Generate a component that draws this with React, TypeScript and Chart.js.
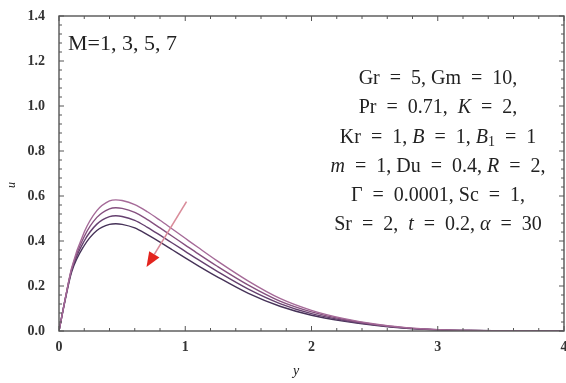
import React, { useEffect, useRef } from "react";
import { Chart, registerables } from "chart.js";

Chart.register(...registerables);

const xs = [0, 0.05, 0.1, 0.2, 0.3, 0.4, 0.45, 0.5, 0.6, 0.7, 0.8, 0.9, 1.0, 1.1, 1.25, 1.5, 1.75, 2.0, 2.25, 2.5, 2.75, 3.0, 3.25, 3.5, 4.0];
const uM1 = [0, 0.145, 0.28, 0.44, 0.535, 0.578, 0.583, 0.58, 0.562, 0.53, 0.492, 0.452, 0.412, 0.372, 0.313, 0.222, 0.145, 0.092, 0.056, 0.031, 0.015, 0.006, 0.002, 0.001, 0];
const uM3 = [0, 0.145, 0.275, 0.42, 0.505, 0.543, 0.548, 0.545, 0.527, 0.495, 0.458, 0.42, 0.382, 0.344, 0.289, 0.204, 0.133, 0.085, 0.052, 0.029, 0.014, 0.006, 0.002, 0.001, 0];
const uM5 = [0, 0.145, 0.27, 0.4, 0.475, 0.508, 0.512, 0.509, 0.492, 0.461, 0.426, 0.39, 0.354, 0.318, 0.266, 0.186, 0.122, 0.077, 0.048, 0.027, 0.013, 0.005, 0.002, 0.001, 0];
const uM7 = [0, 0.14, 0.262, 0.38, 0.447, 0.474, 0.477, 0.474, 0.458, 0.428, 0.395, 0.36, 0.325, 0.291, 0.242, 0.167, 0.11, 0.07, 0.044, 0.025, 0.012, 0.005, 0.002, 0.001, 0];
const seriesLabels = ["M=1", "M=3", "M=5", "M=7"];
const seriesColors = ["#a56a98", "#85507f", "#65406f", "#463258"];

const xTicks = [0, 1, 2, 3, 4];
const yTicks = [0, 0.2, 0.4, 0.6, 0.8, 1.0, 1.2, 1.4];

const legendText = "M=1, 3, 5, 7";
// segments: [text, style]  n = normal, i = italic, s = subscript
const paramLines: [string, string][][] = [
  [["Gr = 5, Gm = 10,", "n"]],
  [["Pr = 0.71,  ", "n"], ["K", "i"], [" = 2,", "n"]],
  [["Kr = 1, ", "n"], ["B", "i"], [" = 1, ", "n"], ["B", "i"], ["1", "s"], [" = 1", "n"]],
  [["m", "i"], [" = 1, Du = 0.4, ", "n"], ["R", "i"], [" = 2,", "n"]],
  [["\u0393 = 0.0001, Sc = 1,", "n"]],
  [["Sr = 2,  ", "n"], ["t", "i"], [" = 0.2, ", "n"], ["\u03b1", "i"], [" = 30", "n"]],
];
// arrow from (x,u) to (x,u) in data units
const arrowFrom = [1.01, 0.575];
const arrowTo = [0.693, 0.284];

const SERIF = "'Liberation Serif', 'DejaVu Serif', serif";

const widen = (t: string) => t.replace(/ = /g, "\u2002=\u2002");

const decorPlugin = {
  id: "decor",
  afterDatasetsDraw(chart: any) {
    const { ctx, chartArea: a, scales } = chart;
    const xs_ = scales.x;
    const ys_ = scales.y;
    ctx.save();
    // frame
    ctx.strokeStyle = "#555";
    ctx.lineWidth = 1.4;
    ctx.strokeRect(a.left, a.top, a.right - a.left, a.bottom - a.top);
    // ticks
    ctx.lineWidth = 1;
    ctx.strokeStyle = "#555";
    for (let i = 0; i <= 20; i++) {
      const v = i * 0.2;
      const px = xs_.getPixelForValue(v);
      const len = i % 5 === 0 ? 5 : 3;
      ctx.beginPath();
      ctx.moveTo(px, a.bottom);
      ctx.lineTo(px, a.bottom - len);
      ctx.moveTo(px, a.top);
      ctx.lineTo(px, a.top + len);
      ctx.stroke();
    }
    for (let i = 0; i <= 35; i++) {
      const v = i * 0.04;
      const py = ys_.getPixelForValue(v);
      const len = i % 5 === 0 ? 5 : 3;
      ctx.beginPath();
      ctx.moveTo(a.left, py);
      ctx.lineTo(a.left + len, py);
      ctx.moveTo(a.right, py);
      ctx.lineTo(a.right - len, py);
      ctx.stroke();
    }
    // x tick labels
    ctx.fillStyle = "#333";
    ctx.textAlign = "center";
    ctx.textBaseline = "middle";
    ctx.font = `bold 14px ${SERIF}`;
    xTicks.forEach((v) => {
      ctx.fillText(String(v), xs_.getPixelForValue(v), 347);
    });

    // arrow
    const x1 = xs_.getPixelForValue(arrowFrom[0]);
    const y1 = ys_.getPixelForValue(arrowFrom[1]);
    const x2 = xs_.getPixelForValue(arrowTo[0]);
    const y2 = ys_.getPixelForValue(arrowTo[1]);
    const ang = Math.atan2(y2 - y1, x2 - x1);
    const hl = 15, hw = 6;
    const bx = x2 - hl * Math.cos(ang);
    const by = y2 - hl * Math.sin(ang);
    ctx.strokeStyle = "#d98c9a";
    ctx.lineWidth = 1.6;
    ctx.beginPath();
    ctx.moveTo(x1, y1);
    ctx.lineTo(bx, by);
    ctx.stroke();
    ctx.fillStyle = "#e3241e";
    ctx.beginPath();
    ctx.moveTo(x2, y2);
    ctx.lineTo(bx + hw * Math.sin(ang), by - hw * Math.cos(ang));
    ctx.lineTo(bx - hw * Math.sin(ang), by + hw * Math.cos(ang));
    ctx.closePath();
    ctx.fill();

    // legend text
    ctx.fillStyle = "#222";
    ctx.textBaseline = "middle";
    ctx.textAlign = "left";
    ctx.font = `22px ${SERIF}`;
    ctx.fillText(legendText, a.left + 9, 44);

    // parameter block
    const fs = 20;
    const fontFor = (st: string) =>
      st === "i" ? `italic ${fs}px ${SERIF}` : st === "s" ? `${Math.round(fs * 0.7)}px ${SERIF}` : `${fs}px ${SERIF}`;
    const cx = 438;
    const y0 = 79;
    const dy = 29.2;
    paramLines.forEach((segs, li) => {
      let w = 0;
      segs.forEach(([t, st]) => {
        ctx.font = fontFor(st);
        w += ctx.measureText(widen(t)).width;
      });
      let x = cx - w / 2;
      const y = y0 + li * dy;
      segs.forEach(([t, st]) => {
        ctx.font = fontFor(st);
        const tt = widen(t);
        ctx.fillText(tt, x, st === "s" ? y + 5 : y);
        x += ctx.measureText(tt).width;
      });
    });

    // axis labels
    ctx.font = `italic 14px ${SERIF}`;
    ctx.textAlign = "center";
    ctx.fillText("y", 296, 371);
    ctx.save();
    ctx.translate(12, 185);
    ctx.rotate(-Math.PI / 2);
    ctx.font = `italic 12px ${SERIF}`;
    ctx.fillText("u", 0, 0);
    ctx.restore();
    ctx.restore();
  },
};

export default function App() {
  const ref = useRef<HTMLCanvasElement | null>(null);
  useEffect(() => {
    if (!ref.current) return;
    const all = [uM1, uM3, uM5, uM7];
    const chart = new Chart(ref.current, {
      type: "line",
      data: {
        datasets: all.map((arr, i) => ({
          label: seriesLabels[i],
          data: xs.map((x, j) => ({ x, y: arr[j] })),
          borderColor: seriesColors[i],
          borderWidth: 1.4,
          pointRadius: 0,
          fill: false,
          cubicInterpolationMode: "monotone" as const,
        })),
      },
      options: {
        animation: false,
        responsive: true,
        maintainAspectRatio: false,
        layout: { padding: { top: 16, right: 2, left: 0, bottom: 0 } },
        plugins: { legend: { display: false }, tooltip: { enabled: false } },
        scales: {
          x: {
            type: "linear",
            min: 0,
            max: 4,
            grid: { display: false },
            border: { display: false },
            afterBuildTicks: (s: any) => {
              s.ticks = xTicks.map((v) => ({ value: v }));
            },
            afterFit: (s: any) => {
              s.height = 52;
            },
            ticks: { display: false },
          },
          y: {
            type: "linear",
            min: 0,
            max: 1.4,
            grid: { display: false },
            border: { display: false },
            afterBuildTicks: (s: any) => {
              s.ticks = yTicks.map((v) => ({ value: v }));
            },
            afterFit: (s: any) => {
              s.width = 59;
            },
            ticks: {
              padding: 6,
              color: "#333",
              font: { family: SERIF, size: 14, weight: "bold" },
              callback: (v: any) => Number(v).toFixed(1),
            },
          },
        },
      },
      plugins: [decorPlugin],
    });
    return () => chart.destroy();
  }, []);
  return (
    <div style={{ position: "fixed", left: 0, top: 0, width: 566, height: 383, background: "#fff" }}>
      <canvas ref={ref} />
    </div>
  );
}
